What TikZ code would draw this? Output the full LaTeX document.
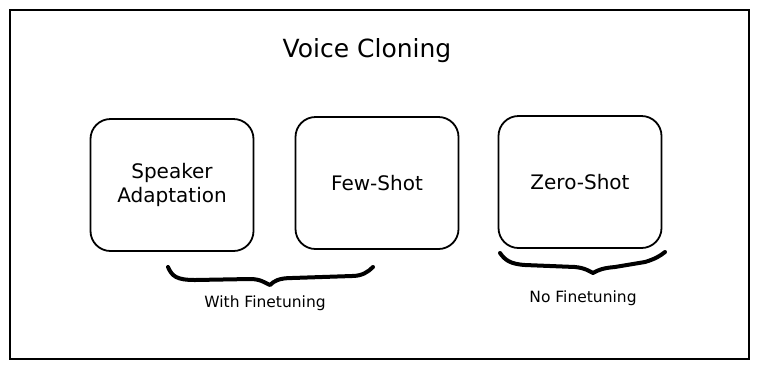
\documentclass[tikz,border=0pt]{standalone}
\usepackage{fontspec}
\setmainfont{DejaVu Sans}
\usetikzlibrary{positioning}

\begin{document}
\begin{tikzpicture}[x=1pt, y=-1pt, node distance=205pt]
    % Stili
    \tikzstyle{blocco} = [draw, line width=1.8pt, rectangle, rounded corners=20pt, minimum width=163pt, minimum height=132pt, align=center, font=\fontsize{20}{24}\selectfont]
    \tikzstyle{graffa} = [line width=4pt, line cap=round, line join=round]
    \tikzstyle{nota} = [font=\fontsize{15.5}{18}\selectfont]

    \useasboundingbox (0,0) rectangle (759,368);
    \draw [line width=1.6pt] (10,10) rectangle (749,359);

    % Titolo
    \node [font=\fontsize{25}{30}\selectfont] (titolo) at (367,51) {Voice Cloning};

    % Blocchi
    \node [blocco] (sa) at (172,185) {Speaker\\Adaptation};
    \node [blocco, right of=sa, yshift=2pt] (fs) {Few-Shot};
    \node [blocco, right of=fs, node distance=203pt, yshift=1pt] (zs) {Zero-Shot};

    % Graffe
    \draw [graffa] (168,267) .. controls (172,276) and (176,280) .. (195,280) -- (250,279)
        .. controls (261,279) and (265,283) .. (270,285)
        .. controls (274,281) and (279,278) .. (292,278) -- (352,276)
        .. controls (362,276) and (368,272) .. (373,267);
    \draw [graffa] (500,253) .. controls (505,260) and (510,264) .. (525,265) -- (575,267)
        .. controls (585,268) and (589,271) .. (593,273)
        .. controls (598,270) and (603,268) .. (615,267) -- (645,262)
        .. controls (655,259) and (660,256) .. (665,252);

    % Etichette
    \node [nota] (con) at (265,303) {With Finetuning};
    \node [nota] (senza) at (583,298) {No Finetuning};
\end{tikzpicture}
\end{document}
